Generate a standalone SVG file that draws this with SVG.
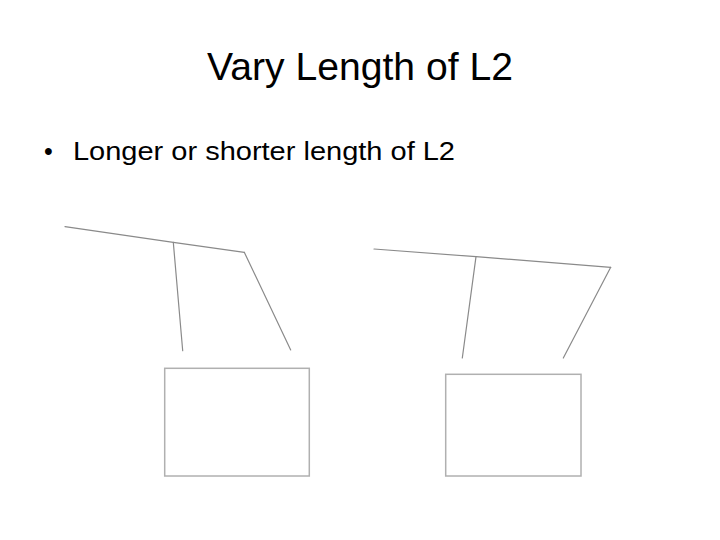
<svg xmlns="http://www.w3.org/2000/svg" width="720" height="540" viewBox="0 0 720 540">
<style>
.t{font-family:"Liberation Sans","Open Sans",sans-serif;fill:#000}
.rod{stroke:#8a8a8a;stroke-width:1.2;fill:none;stroke-linecap:round}
.box{stroke:#b0b0b0;stroke-width:1.5;fill:#fff}
</style>
<rect width="720" height="540" fill="#fff"/>
<text class="t" x="360" y="80" font-size="39" text-anchor="middle" textLength="306" lengthAdjust="spacingAndGlyphs">Vary Length of L2</text>
<text class="t" x="44" y="160" font-size="25">•</text>
<text class="t" x="73" y="160" font-size="25" textLength="382" lengthAdjust="spacingAndGlyphs">Longer or shorter length of L2</text>
<g id="left">
<polyline class="rod" points="65,226.7 173.3,242.3 244.3,252.3"/>
<line class="rod" x1="173.3" y1="242.3" x2="182.7" y2="350.7"/>
<line class="rod" x1="244.3" y1="252.3" x2="290.7" y2="350"/>
<rect class="box" x="164.7" y="368.3" width="144.6" height="107.7"/>
</g>
<g id="right">
<polyline class="rod" points="374,249 476,256.7 610.7,267.3"/>
<line class="rod" x1="476" y1="256.7" x2="462.3" y2="358"/>
<line class="rod" x1="610.7" y1="267.3" x2="563.3" y2="358"/>
<rect class="box" x="445.7" y="374.3" width="135.3" height="101.7"/>
</g>
</svg>
